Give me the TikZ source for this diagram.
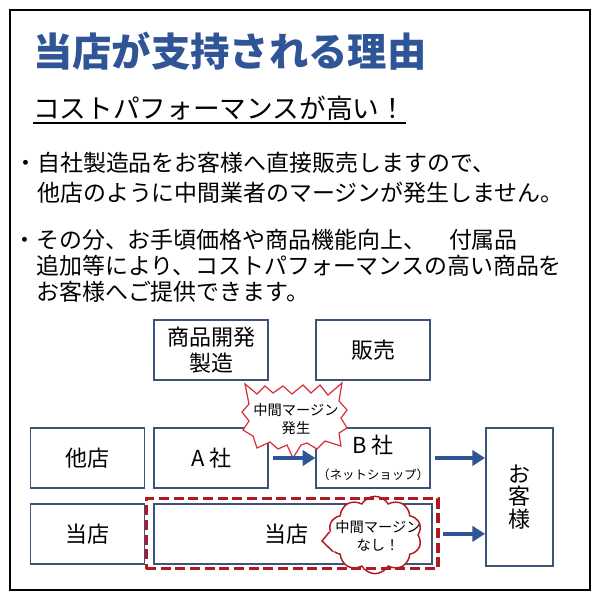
\documentclass[tikz,border=0pt]{standalone}
\usepackage{fontspec}
\setmainfont{Noto Sans CJK JP}
\usepackage{tikz}
\usetikzlibrary{shapes.symbols, arrows.meta, positioning, fit, calc}
\definecolor{HeadBlue}{RGB}{47,85,151}
\definecolor{BoxNavy}{RGB}{60,84,122}
\definecolor{FlowBlue}{RGB}{47,85,151}
\definecolor{FrameRed}{RGB}{178,24,34}
\definecolor{BurstRed}{RGB}{215,45,55}

\begin{document}
\begin{tikzpicture}[
    x=0.75pt, y=-0.75pt,
    box/.style={rectangle, draw=BoxNavy, line width=1.4pt, fill=white,
                minimum width=85.5pt, minimum height=45pt, inner sep=0pt,
                align=center, font=\fontsize{16.5}{20}\selectfont},
    flow/.style={-{Triangle[length=9.5pt, width=11.5pt]}, line width=3.2pt,
                 FlowBlue, shorten <=2.5pt},
    burst/.style={draw=BurstRed, fill=white, line width=0.9pt},
    puff/.style={cloud, cloud puffs=10, cloud puff arc=120, cloud ignores aspect,
                 draw=FrameRed, fill=white, line width=1.1pt,
                 minimum width=70pt, minimum height=58pt, inner sep=0pt},
    notetext/.style={align=center, inner sep=0pt, font=\fontsize{10.7}{13.5}\selectfont},
    dashframe/.style={draw=FrameRed, line width=2.3pt, dash pattern=on 7.5pt off 3.5pt},
    bodytext/.style={anchor=north west, align=left, inner sep=0pt}
]
\useasboundingbox (0,0) rectangle (600,600);
\draw[line width=1.5pt] (10,10) rectangle (590,590);

% heading
\node[anchor=west, inner sep=0pt, text=HeadBlue,
      font=\bfseries\fontsize{29.5}{34}\selectfont] (title) at (33,51) {当店が支持される理由};
\node[anchor=west, inner sep=0pt, font=\fontsize{20}{24}\selectfont] (catch) at (33,108)
      {コストパフォーマンスが高い！};
\draw[line width=1.2pt] ([yshift=-3.5pt]catch.base west) -- ([yshift=-3.5pt]catch.base east);

% bullets
\node[bodytext, font=\fontsize{17.2}{22.5}\selectfont] (point1) at (37,152)
      {\llap{・}自社製造品をお客様へ直接販売しますので、\\他店のように中間業者のマージンが発生しません。};
\node[bodytext, font=\fontsize{17.2}{19.5}\selectfont] (point2) at (36,229)
      {\llap{・}その分、お手頃価格や商品機能向上、　付属品\\追加等により、コストパフォーマンスの高い商品を\\お客様へご提供できます。};

% boxes
\node[box] (tate) at (87.5,458) {他店};
\node[box, right=6pt of tate]      (asha)     {A 社};
\node[box, right=34.5pt of asha]   (bsha)     {B 社\\{\fontsize{9.3}{10}\selectfont （ネットショップ）}};
\node[box, above=34.5pt of asha]   (kaihatsu) {商品開発\\製造};
\node[box, above=34.5pt of bsha]   (hanbai)   {販売};
\node[box, below=10.5pt of tate]   (toten)    {当店};
\node[box, minimum width=208.5pt, anchor=north west] (jisha)
      at ([yshift=-10.5pt]asha.south west) {\hspace*{-11pt}当店};
\node[box, minimum width=50pt, minimum height=103.5pt, anchor=north west,
      font=\fontsize{16.5}{17}\selectfont] (okyaku) at (485,427) {お\\客\\様};

% margin burst
\coordinate (burstc) at (295,418);
\draw[burst, shift={(burstc)}] (-50,-34) -- (-38,-24) -- (-30,-32) -- (-22,-25) -- (-12,-32)
      -- (-3,-24) -- (8,-33) -- (16,-25) -- (25,-33) -- (33,-23) -- (47,-35) -- (44,-17)
      -- (52,-8) -- (46,0) -- (52,10) -- (44,15) -- (46,28) -- (30,23) -- (22,31) -- (12,25)
      -- (6,27) -- (-2,40) -- (-8,27) -- (-17,31) -- (-25,24) -- (-38,30) -- (-42,18)
      -- (-52,12) -- (-46,3) -- (-53,-6) -- (-46,-14) -- cycle;
\node[notetext] (hassei) at (296,419) {中間マージン\\発生};

\draw[flow] (asha) -- (bsha);
\draw[flow] (bsha.east) -- (bsha.east -| okyaku.west);

% no margin cloud
\node[puff] (nashi) at (375,535) {};
\coordinate (nashitip) at (322,541);
\fill[white] ($(nashi.center)!1.08!(nashi.176)$) -- (nashitip)
      -- ($(nashi.center)!1.08!(nashi.202)$) -- (nashi.center) -- cycle;
\draw[FrameRed, line width=1.1pt] (nashi.176) -- (nashitip) -- (nashi.202);
\node[notetext] (nashitext) at (378,536) {中間マージン\\なし！};

\node[dashframe, fit=(jisha), inner xsep=4.5pt, inner ysep=3pt, xshift=-1pt] (waku) {};
\draw[flow] (waku.east) -- (waku.east -| okyaku.west);
\end{tikzpicture}
\end{document}
